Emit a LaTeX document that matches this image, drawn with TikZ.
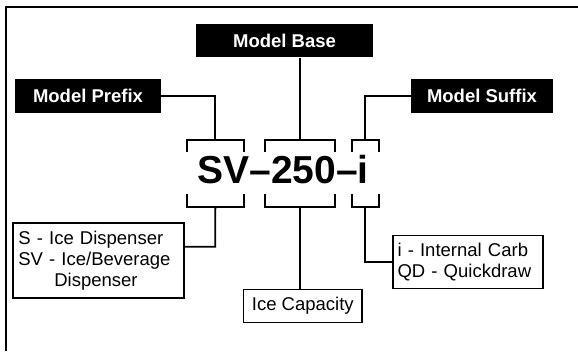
\documentclass[tikz,border=0pt]{standalone}
\usepackage{fontspec}
\setmainfont{Liberation Sans}
\usepackage{tikz}
\usetikzlibrary{positioning, calc}

\tikzset{
  tag/.style={fill=black, text=white, font=\fontsize{18.5}{21}\selectfont\bfseries,
    minimum height=33.4pt, inner sep=0pt},
  info/.style={draw=black, line width=1.8pt, fill=white,
    font=\fontsize{18.5}{21}\selectfont, inner sep=0pt},
  link/.style={line width=1.8pt},
}

\begin{document}
\begin{tikzpicture}[x=1pt, y=-1pt]
  \useasboundingbox (0,0) rectangle (578,351);
  % frame (cut off on the right and at the bottom)
  \draw[line width=2pt] (6,351) -- (6,6.5) -- (578,6.5);
  % header tags
  \node[tag, minimum width=146pt] (prefix) at (88,96) {Model Prefix};
  \node[tag, minimum width=177pt] (base) at (284.5,40.7) {Model Base};
  \node[tag, minimum width=142pt] (suffix) at (482,96) {Model Suffix};
  % model number
  \node[font=\fontsize{39}{42}\selectfont\bfseries, inner sep=0pt] (code) at (283,170) {SV--250--i};
  % brackets above and below each part
  \foreach \l/\r/\n in {186.7/244/pre, 265/335/base, 351.7/379/suf} {
    \draw[link] (\l,151.7) -- (\l,140) -- (\r,140) -- (\r,151.7);
    \draw[link] (\l,194.3) -- (\l,206.7) -- (\r,206.7) -- (\r,194.3);
    \coordinate (top\n) at ({(\l+\r)/2},140);
    \coordinate (bot\n) at ({(\l+\r)/2},206.7);
  }
  % explanation boxes
  \node[info, minimum width=171pt, minimum height=75.6pt, text width=160pt, align=left]
    (preinfo) at (98.3,260.5) {S - Ice Dispenser\\SV - Ice/Beverage\\\hspace*{36pt}Dispenser};
  \node[info, minimum width=118.5pt, minimum height=33pt] (capinfo) at (302.8,306) {Ice Capacity};
  \node[info, minimum width=150pt, minimum height=53pt, text width=141pt, align=left]
    (sufinfo) at (468,262) {i - Internal Carb\\QD - Quickdraw};
  % connectors
  \coordinate (prejoin) at (215.3,246.7);
  \draw[link] (prefix.east) -| (toppre);
  \draw[link] (base.south -| topbase) -- (topbase);
  \draw[link] (suffix.west) -| (topsuf);
  \draw[link] (botpre) -- (prejoin) -- (prejoin -| preinfo.east);
  \draw[link] (botbase) -- (botbase |- capinfo.north);
  \draw[link] (botsuf) |- (sufinfo.west);
\end{tikzpicture}
\end{document}
